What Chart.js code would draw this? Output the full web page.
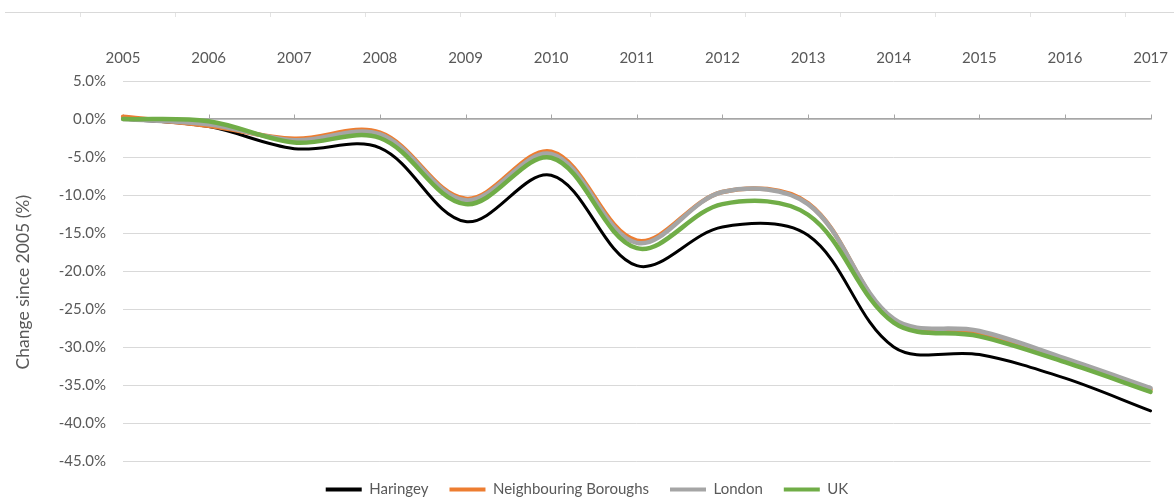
<!DOCTYPE html>
<html><head><meta charset="utf-8">
<script src="https://cdn.jsdelivr.net/npm/chart.js@4.4.1/dist/chart.umd.min.js"></script>
<style>
html,body{margin:0;padding:0;background:#fff;}
#wrap{position:relative;width:1174px;height:498px;}
canvas{position:absolute;left:0;top:0;}
#topline{position:absolute;top:12px;left:5px;right:0;height:1px;background:#d9d9d9;}
#topticks{position:absolute;top:13px;left:80px;right:0;height:4px;background:repeating-linear-gradient(to right,#e3e3e3 0,#e3e3e3 1px,transparent 1px,transparent 95px);}
</style></head><body>
<div id="wrap"><canvas id="c" width="1174" height="498"></canvas><div id="topline"></div><div id="topticks"></div></div>
<script>
const years = ['2005','2006','2007','2008','2009','2010','2011','2012','2013','2014','2015','2016','2017'];
const haringey    = [0.0, -1.0, -3.9, -3.8, -13.5, -7.4, -19.3, -14.2, -15.3, -30.0, -31.0, -34.1, -38.4];
const neighbours  = [0.3, -0.9, -2.6, -1.8, -10.5, -4.3, -16.0,  -9.6, -11.1, -26.5, -28.1, -31.7, -35.6];
const london      = [0.0, -0.7, -2.8, -2.0, -10.7, -4.6, -16.3,  -9.6, -11.2, -26.3, -27.9, -31.5, -35.4];
const uk          = [0.0, -0.3, -3.1, -2.5, -11.2, -5.1, -17.0, -11.2, -12.6, -26.8, -28.6, -32.0, -35.9];
const seriesNames = ['Haringey','Neighbouring Boroughs','London','UK'];
const yTicks = {min: -45, max: 5, step: 5};

const TXT = '#595959';
const FONT = 'Lato';
const AXIS = '#a6a6a6';

function ds(label, data, color, width, order){
  return {label, data, borderColor: color, backgroundColor: color, borderWidth: width,
    pointRadius: 0, pointHoverRadius: 0, tension: 0.35, fill: false, order,
    borderCapStyle: 'round', borderJoinStyle: 'round'};
}

// small upward tick marks on the 0% axis line, placed through the chart's own scales
const zeroAxisTicks = {
  id: 'zeroAxisTicks',
  beforeDatasetsDraw(chart){
    const xs = chart.scales.x2, ys = chart.scales.y, ctx = chart.ctx;
    const y0 = Math.round(ys.getPixelForValue(0)) + 0.5;
    ctx.save();
    ctx.strokeStyle = AXIS;
    ctx.lineWidth = 1;
    ctx.beginPath();
    xs.ticks.forEach((t, i) => {
      const x = Math.round(xs.getPixelForTick(i)) + 0.5;
      ctx.moveTo(x, y0);
      ctx.lineTo(x, y0 - 5);
    });
    ctx.stroke();
    ctx.restore();
  }
};

new Chart(document.getElementById('c'), {
  type: 'line',
  data: {
    labels: years,
    datasets: [
      ds(seriesNames[0], haringey, '#000000', 3, 4),
      ds(seriesNames[1], neighbours, '#ED7D31', 4.5, 3),
      ds(seriesNames[2], london, '#A5A5A5', 4.5, 2),
      ds(seriesNames[3], uk, '#70AD47', 4.5, 1)
    ]
  },
  plugins: [zeroAxisTicks],
  options: {
    responsive: false,
    animation: false,
    layout: {padding: {left: 9, right: 9, top: 0, bottom: 0}},
    plugins: {
      tooltip: {enabled: false},
      legend: {
        position: 'bottom',
        align: 'center',
        maxHeight: 37,
        labels: {
          color: TXT,
          font: {family: FONT, size: 15},
          boxWidth: 36,
          boxHeight: 4,
          padding: 21,
          sort: (a, b) => a.datasetIndex - b.datasetIndex,
          generateLabels(chart){
            return Chart.defaults.plugins.legend.labels.generateLabels(chart).map(l => Object.assign(l, {lineWidth: 0}));
          }
        }
      }
    },
    scales: {
      x: {
        type: 'category',
        position: 'top',
        offset: false,
        grid: {display: false},
        border: {display: false},
        ticks: {color: TXT, font: {family: FONT, size: 15}, padding: 6, maxRotation: 0, autoSkip: false},
        afterFit(s){ s.height = 81; }
      },
      x2: {
        type: 'category',
        labels: years,
        position: {y: 0},
        offset: false,
        ticks: {display: false},
        grid: {drawOnChartArea: false, drawTicks: false},
        border: {display: true, color: AXIS, width: 1.5}
      },
      y: {
        min: yTicks.min, max: yTicks.max,
        ticks: {stepSize: yTicks.step, color: TXT, font: {family: FONT, size: 15}, padding: 17,
          callback: v => v.toFixed(1) + '%'},
        grid: {color: '#d9d9d9', drawTicks: false, lineWidth: 1},
        border: {display: false},
        title: {display: true, text: 'Change since 2005 (%)     ', color: TXT, font: {family: FONT, size: 17.5}, padding: {top: 4, bottom: 4}},
        afterFit(s){ s.width = 123 - 9; }
      }
    }
  }
});
</script>
</body></html>
